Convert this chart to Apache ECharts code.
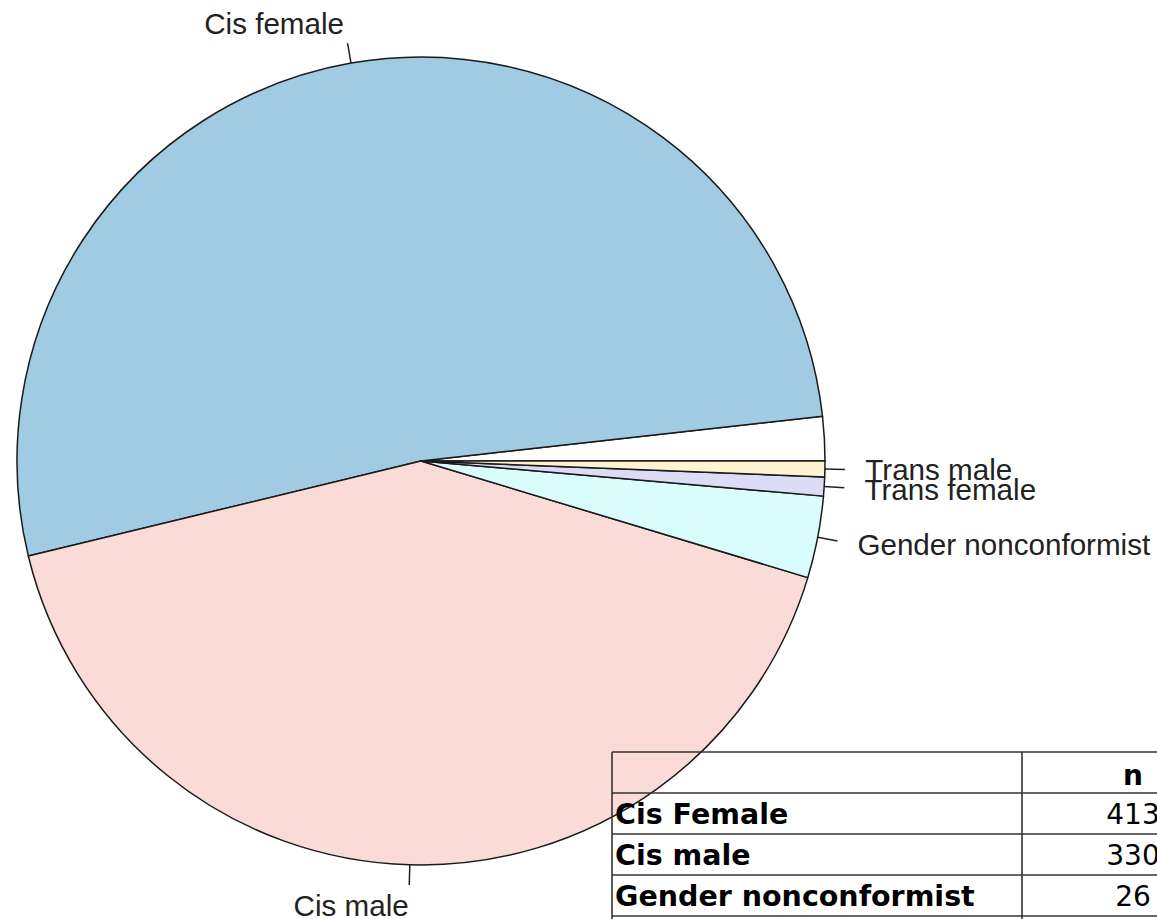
<!DOCTYPE html>
<html><head><meta charset="utf-8">
<script src="https://cdn.jsdelivr.net/npm/echarts@6/dist/echarts.min.js"></script>
<style>html,body{margin:0;padding:0;background:#fff;}#main{width:1157px;height:919px;}</style>
</head><body><div id="main"></div>
<script>
// ---- data ----
const categories = ["", "Cis female", "Cis male", "Gender nonconformist", "Trans female", "Trans male"];
const counts = [14, 413, 330, 26, 6, 5];
const sliceColors = ["#ffffff", "#a0cbe2", "#fadbd8", "#d9fcfc", "#dcdcf7", "#fdf5d2"];
const tableHeader = ["", "n"];
const tableLabels = ["Cis Female", "Cis male", "Gender nonconformist", ""];
const tableValues = ["413", "330", "26", ""];

// ---- layout ----
const CX = 421, CY = 461, R = 404;
const total = counts.reduce((a, b) => a + b, 0);
const mids = [];
let acc = 0;
counts.forEach(v => { mids.push(acc + v / 2); acc += v; });

const chart = echarts.init(document.getElementById('main'), null, {renderer: 'svg'});

// table graphic
const T = {left: 612, top: 752, col: 1022, right: 1300, rowH: 41, bottom: 919};
const g = [];
const lineStyle = {stroke: '#333', lineWidth: 1.6};
const nRows = 1 + tableLabels.length;
for (let r = 0; r < nRows; r++) {
  const y = T.top + r * T.rowH;
  g.push({type: 'line', shape: {x1: T.left, y1: y, x2: T.right, y2: y}, style: lineStyle, z: 100});
}
[T.left, T.col].forEach(x => g.push({type: 'line', shape: {x1: x, y1: T.top, x2: x, y2: T.bottom + 60}, style: lineStyle, z: 100}));
const colCenter = (T.col + 1244) / 2;
g.push({type: 'text', x: colCenter, y: T.top + T.rowH / 2 + 3, z: 101,
  style: {text: tableHeader[1], font: 'bold 28px "DejaVu Sans"', fill: '#000', align: 'center', verticalAlign: 'middle'}});
tableLabels.forEach((lab, i) => {
  const yc = T.top + (i + 1) * T.rowH + T.rowH / 2 + 1;
  g.push({type: 'text', x: T.left + 3, y: yc, z: 101,
    style: {text: lab, font: 'bold 28.5px "DejaVu Sans"', fill: '#000', align: 'left', verticalAlign: 'middle'}});
  g.push({type: 'text', x: colCenter, y: yc, z: 101,
    style: {text: tableValues[i], font: '28px "DejaVu Sans"', fill: '#000', align: 'center', verticalAlign: 'middle'}});
});

chart.setOption({
  animation: false,
  backgroundColor: '#fff',
  graphic: g,
  series: [{
    type: 'pie',
    center: [CX, CY],
    radius: R,
    startAngle: 0,
    clockwise: false,
    avoidLabelOverlap: false,
    minShowLabelAngle: 0,
    emphasis: {disabled: true},
    itemStyle: {borderColor: '#1a1a1a', borderWidth: 1.5},
    label: {show: true, position: 'outside', formatter: '{b}', fontSize: 29.6,
      fontFamily: '"Liberation Sans", Arial, sans-serif', color: '#222'},
    labelLine: {show: true, length: 20, length2: 0, lineStyle: {color: '#222', width: 1.5}},
    labelLayout: function (p) {
      const th = mids[p.dataIndex] / total * 2 * Math.PI;
      const c = Math.cos(th), s = Math.sin(th);
      return {
        x: CX + 1.1 * R * c, y: CY - 1.1 * R * s,
        align: c >= 0 ? 'left' : 'right', verticalAlign: 'middle',
        labelLinePoints: [[CX + R * c, CY - R * s], [CX + 1.05 * R * c, CY - 1.05 * R * s], [CX + 1.05 * R * c, CY - 1.05 * R * s]]
      };
    },
    data: categories.map((name, i) => ({
      name: name, value: counts[i],
      itemStyle: {color: sliceColors[i]},
      label: {show: name !== ''},
      labelLine: {show: name !== ''}
    }))
  }]
});
</script></body></html>
